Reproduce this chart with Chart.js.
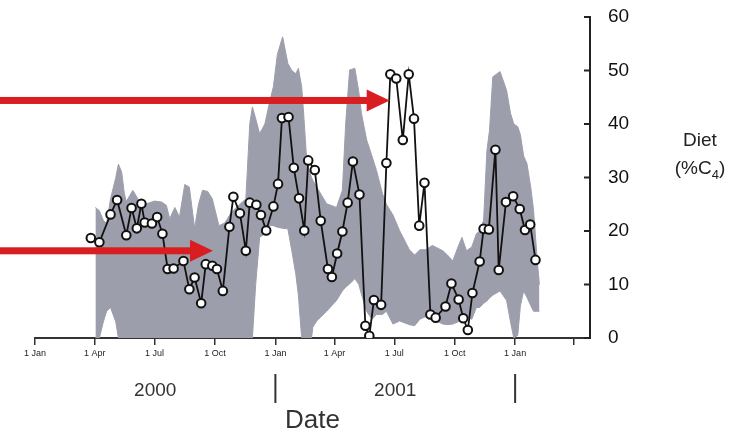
<!DOCTYPE html>
<html>
<head>
<meta charset="utf-8">
<script src="https://cdn.jsdelivr.net/npm/chart.js@4"></script>
<style>
  html, body { margin: 0; padding: 0; background: #fff; }
  #wrap { width: 747px; height: 441px; }
</style>
</head>
<body>
<div id="wrap"><canvas id="dietChart" width="747" height="441"></canvas></div>
<script>
// all x values are days counted from 1 Jan 2000
const sampleDays = [85, 98, 115, 125, 139, 147, 155, 162, 167, 178,
  186, 194, 202, 211, 226, 235, 243, 253, 260, 270,
  277, 286, 296, 302, 312, 321, 327, 337, 344, 352,
  363, 370, 376, 386, 394, 402, 410, 416, 426, 435,
  446, 452, 460, 468, 476, 484, 494, 503, 509, 516,
  527, 535, 541, 550, 560, 569, 577, 585, 593, 602,
  610, 625, 634, 645, 652, 659, 666, 677, 683, 691,
  701, 706, 717, 728, 738, 746, 754, 762];
const dietC4 = [18.7, 17.9, 23.1, 25.8, 19.2, 24.3, 20.5, 25.1, 21.6, 21.4,
  22.6, 19.5, 12.9, 13.0, 14.4, 9.1, 11.3, 6.5, 13.8, 13.5,
  12.9, 8.8, 20.8, 26.4, 23.3, 16.3, 25.3, 24.9, 23.0, 20.1,
  24.6, 28.8, 41.1, 41.3, 31.8, 26.1, 20.1, 33.2, 31.4, 21.9,
  12.9, 11.4, 15.8, 19.9, 25.3, 33.0, 26.8, 2.3, 0.4, 7.1,
  6.2, 32.7, 49.3, 48.5, 37.0, 49.3, 41.0, 21.0, 29.0, 4.4,
  3.8, 5.9, 10.2, 7.2, 3.7, 1.5, 8.4, 14.3, 20.4, 20.3,
  35.2, 12.7, 25.4, 26.5, 24.1, 20.2, 21.2, 14.6];

// grey envelope
const bandDays = [92, 98, 104, 109, 115, 123, 127, 132, 136, 139,
  149, 159, 170, 182, 193, 200, 205, 213, 220, 228,
  235, 243, 249, 255, 263, 270, 280, 289, 299, 312,
  321, 327, 331, 336, 342, 350, 357, 363, 369, 377,
  385, 391, 397, 401, 406, 409, 414, 421, 423, 429,
  444, 459, 468, 473, 479, 487, 493, 497, 505, 513,
  520, 529, 535, 545, 555, 570, 578, 586, 595, 605,
  621, 628, 636, 644, 650, 657, 665, 672, 677, 683,
  688, 692, 697, 708, 718, 724, 729, 735, 739, 744,
  749, 755, 759, 765, 768];
const bandLow = [0, 0, 3, 5, 5.7, 3, 0, 0, 0, 0,
  0, 0, 0, 0, 0, 0, 0, 0, 0, 0,
  0, 0, 0, 0, 0, 0, 0, 0, 0, 0,
  0, 0, 0, 10, 18.8, 19.5, 21, 21, 20.7, 20.5,
  20.4, 16.3, 12, 8, 0, 0, 0, 0, 2, 3.2,
  5, 7, 8.8, 9.5, 10.1, 11.1, 10, 8.2, 5, 3.5,
  4.4, 4.4, 5, 2.6, 3.2, 2.5, 2.3, 3.5, 4, 3.5,
  2.6, 2.5, 2.6, 3, 3.5, 4, 3.5, 5.7, 5.7, 6.5,
  6.9, 7.5, 8, 8.8, 7, 3, 0, 0.5, 6, 8.8,
  7.6, 6, 5, 5, 5];
const bandHigh = [24.4, 23.8, 22, 21.4, 26, 30, 32.5, 31, 27, 25.5,
  27.6, 25.5, 25.1, 25.6, 25.4, 24.8, 22.3, 24.4, 22.6, 28.7,
  28.2, 20.5, 25, 27.6, 27.4, 26, 21, 21.5, 23.5, 25,
  26, 40, 43.2, 41, 38.2, 40, 44, 47, 53, 56.3,
  51.3, 50, 49.4, 50.4, 47, 42, 32.6, 30, 29.5, 28.2,
  25.1, 24.4, 27.6, 40, 50.1, 50.4, 46, 42, 37, 34,
  31.3, 27, 25, 23, 20.1, 16.5, 15.5, 16.5, 16.5, 17.3,
  16.3, 15.5, 14.4, 17, 18.8, 16.3, 17, 19.5, 20, 22,
  35, 38.8, 48.8, 49.8, 46.3, 42, 40, 39.5, 38, 34,
  32.6, 28, 24, 14, 10];

const quarterTickDays = [0, 91, 182, 274, 366, 456, 547, 639, 731, 821];
const quarterTickLabels = ['1 Jan', '1 Apr', '1 Jul', '1 Oct', '1 Jan', '1 Apr', '1 Jul', '1 Oct', '1 Jan', ''];
const yearLabels = ['2000', '2001'];
const yearStartDays = [0, 366, 731];
const yTicks = [0, 10, 20, 30, 40, 50, 60];

// red arrows: level (%C4) and the day the tip points at
const arrowLevels = [44.4, 16.3];
const arrowTipDays = [540, 271];

const FONT = "'Liberation Sans', Arial, Helvetica, sans-serif";
const BAND = '#9d9eac';
const RED = '#d81e20';

const decorations = {
  id: 'decorations',
  afterDatasetsDraw(chart) {
    const { ctx, scales: { x, y } } = chart;
    ctx.save();
    ctx.fillStyle = RED;
    arrowLevels.forEach((lvl, i) => {
      const py = y.getPixelForValue(lvl);
      const tip = x.getPixelForValue(arrowTipDays[i]);
      const head = 23;
      ctx.fillRect(0, py - 3.5, tip - head + 1, 7);
      ctx.beginPath();
      ctx.moveTo(tip - head, py - 11);
      ctx.lineTo(tip, py);
      ctx.lineTo(tip - head, py + 11);
      ctx.closePath();
      ctx.fill();
    });
    ctx.restore();
  },
  afterDraw(chart) {
    const { ctx, chartArea, scales: { x, y } } = chart;
    ctx.save();
    // inward ticks on the right axis
    ctx.strokeStyle = '#222';
    ctx.lineWidth = 2;
    yTicks.forEach(v => {
      const py = y.getPixelForValue(v);
      ctx.beginPath();
      ctx.moveTo(chartArea.right - 6, py);
      ctx.lineTo(chartArea.right, py);
      ctx.stroke();
    });

    // years + separators
    ctx.fillStyle = '#333';
    ctx.font = '19px ' + FONT;
    ctx.textAlign = 'center';
    ctx.textBaseline = 'middle';
    yearLabels.forEach((t, i) => {
      const px = x.getPixelForValue((yearStartDays[i] + yearStartDays[i + 1]) / 2);
      ctx.fillText(t, px, 391);
    });
    ctx.strokeStyle = '#333';
    yearStartDays.slice(1).forEach(d => {
      const px = x.getPixelForValue(d);
      ctx.beginPath();
      ctx.moveTo(px, 374);
      ctx.lineTo(px, 403);
      ctx.stroke();
    });

    // y title: Diet (%C4)
    const cx = 700;
    ctx.fillStyle = '#222';
    ctx.fillText('Diet', cx, 141);
    ctx.textAlign = 'left';
    const a = '(%C', b = '4', c = ')';
    const wa = ctx.measureText(a).width, wc = ctx.measureText(c).width;
    ctx.font = '13px ' + FONT;
    const wb = ctx.measureText(b).width;
    let sx = cx - (wa + wb + wc) / 2;
    ctx.font = '19px ' + FONT;
    ctx.fillText(a, sx, 169);
    ctx.font = '13px ' + FONT;
    ctx.fillText(b, sx + wa, 175);
    ctx.font = '19px ' + FONT;
    ctx.fillText(c, sx + wa + wb, 169);
    ctx.restore();
  }
};

new Chart(document.getElementById('dietChart'), {
  type: 'line',
  data: {
    datasets: [
      {
        label: 'Diet',
        data: sampleDays.map((d, i) => ({ x: d, y: dietC4[i] })),
        borderColor: '#111',
        borderWidth: 1.8,
        pointRadius: 4.3,
        pointBorderWidth: 2,
        pointBackgroundColor: '#fff',
        pointBorderColor: '#111',
        tension: 0,
        fill: false
      },
      {
        label: 'upper',
        data: bandDays.map((d, i) => ({ x: d, y: bandHigh[i] })),
        borderColor: BAND,
        borderWidth: 1,
        pointRadius: 0,
        backgroundColor: BAND,
        fill: '+1'
      },
      {
        label: 'lower',
        data: bandDays.map((d, i) => ({ x: d, y: bandLow[i] })),
        borderColor: BAND,
        borderWidth: 1,
        pointRadius: 0,
        fill: false
      }
    ]
  },
  options: {
    responsive: false,
    animation: false,
    events: [],
    layout: { padding: { left: 35, top: 17, right: 0, bottom: 0 } },
    plugins: { legend: { display: false }, tooltip: { enabled: false } },
    scales: {
      x: {
        type: 'linear',
        min: 0,
        max: 845,
        afterBuildTicks: s => { s.ticks = quarterTickDays.map(v => ({ value: v })); },
        afterFit: s => { s.height = 103; },
        ticks: {
          autoSkip: false, maxRotation: 0, padding: 3, color: '#222',
          font: { family: FONT, size: 9 },
          callback: (v, i) => quarterTickLabels[i]
        },
        grid: { drawOnChartArea: false, drawTicks: true, tickLength: 7, color: '#333', lineWidth: 1.5 },
        border: { display: true, color: '#333', width: 2 },
        title: { display: true, text: 'Date', color: '#333', font: { family: FONT, size: 26 }, padding: { top: 0, bottom: 5 } }
      },
      y: {
        position: 'right',
        min: 0,
        max: 60,
        afterBuildTicks: s => { s.ticks = yTicks.map(v => ({ value: v })); },
        afterFit: s => { s.width = 157; },
        ticks: { padding: 0, color: '#111', font: { family: FONT, size: 19 } },
        // invisible tick marks only push the labels away from the axis
        grid: { display: true, drawOnChartArea: false, drawTicks: true, tickLength: 18, color: 'rgba(0,0,0,0)' },
        border: { display: true, color: '#222', width: 2 }
      }
    }
  },
  plugins: [decorations]
});
</script>
</body>
</html>
